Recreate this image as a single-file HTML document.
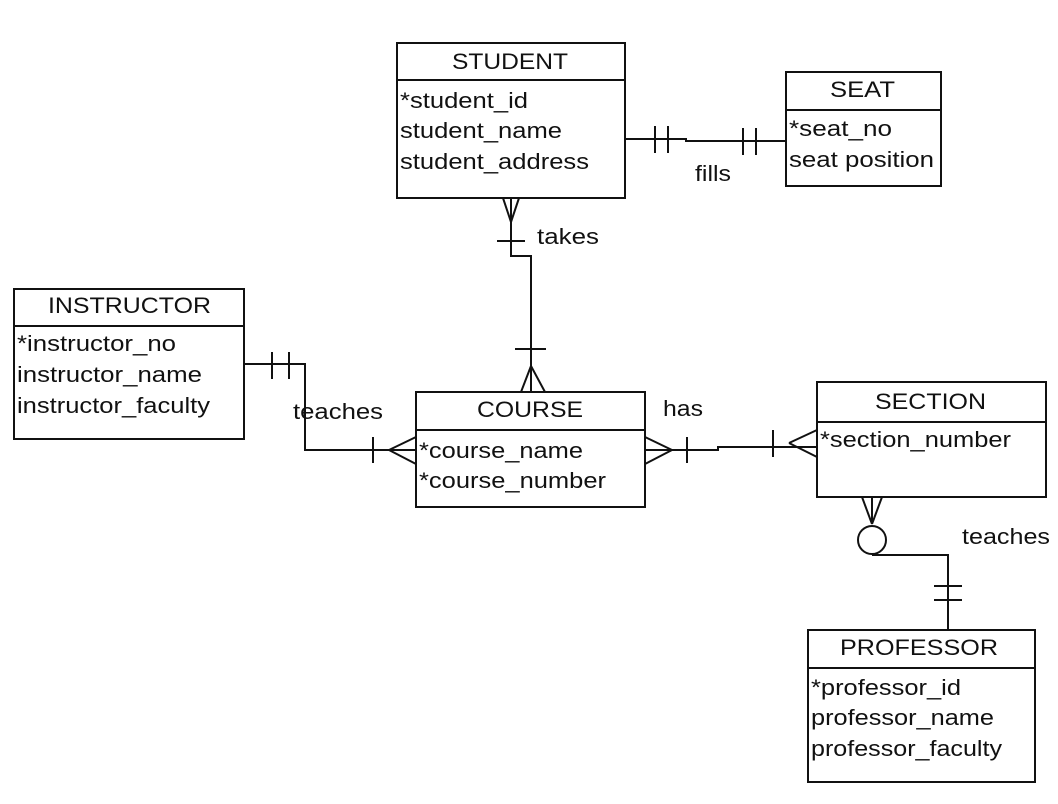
<!DOCTYPE html>
<html><head><meta charset="utf-8"><style>
html,body{margin:0;padding:0;background:#fff;}
svg{display:block;}
text{font-family:"Liberation Sans",Arial,sans-serif;font-size:22px;fill:#111;}
</style></head><body>
<svg width="1058" height="804" viewBox="0 0 1058 804" xmlns="http://www.w3.org/2000/svg">
<g fill="none" stroke="#111" stroke-width="2">
<rect x="397" y="43" width="228" height="155"/><line x1="397" y1="80" x2="625" y2="80"/>
<rect x="786" y="72" width="155" height="114"/><line x1="786" y1="110" x2="941" y2="110"/>
<rect x="14" y="289" width="230" height="150"/><line x1="14" y1="326" x2="244" y2="326"/>
<rect x="416" y="392" width="229" height="115"/><line x1="416" y1="430" x2="645" y2="430"/>
<rect x="817" y="382" width="229" height="115"/><line x1="817" y1="422" x2="1046" y2="422"/>
<rect x="808" y="630" width="227" height="152"/><line x1="808" y1="668" x2="1035" y2="668"/>

<polyline points="625,139 686,139 686,141 786,141"/>
<line x1="655" y1="126" x2="655" y2="153"/><line x1="668" y1="126" x2="668" y2="153"/>
<line x1="743" y1="128" x2="743" y2="155"/><line x1="756" y1="128" x2="756" y2="155"/>

<polyline points="511,198 511,256 531,256 531,392"/>
<line x1="503" y1="198" x2="511" y2="222"/><line x1="519" y1="198" x2="511" y2="222"/>
<line x1="497" y1="241" x2="525" y2="241"/>
<line x1="515" y1="349" x2="546" y2="349"/>
<line x1="531" y1="366" x2="521" y2="392"/><line x1="531" y1="366" x2="545" y2="392"/>

<polyline points="244,364 305,364 305,450 416,450"/>
<line x1="272" y1="352" x2="272" y2="379"/><line x1="289" y1="352" x2="289" y2="379"/>
<line x1="373" y1="437" x2="373" y2="463"/>
<line x1="389" y1="450" x2="416" y2="437"/><line x1="389" y1="450" x2="416" y2="464"/>

<polyline points="645,450 718,450 718,447 817,447"/>
<line x1="645" y1="437" x2="672" y2="450"/><line x1="645" y1="464" x2="672" y2="450"/>
<line x1="687" y1="437" x2="687" y2="463"/>
<line x1="773" y1="430" x2="773" y2="457"/>
<line x1="789" y1="443" x2="817" y2="430"/><line x1="789" y1="443" x2="817" y2="457"/>

<line x1="862" y1="497" x2="872" y2="524"/><line x1="882" y1="497" x2="872" y2="524"/><line x1="872" y1="497" x2="872" y2="524"/>
<circle cx="872" cy="540" r="14"/>
<polyline points="872,555 948,555 948,630"/>
<line x1="934" y1="586" x2="962" y2="586"/><line x1="934" y1="600" x2="962" y2="600"/>
</g>
<g lengthAdjust="spacingAndGlyphs">
<text x="452" y="69" textLength="116" lengthAdjust="spacingAndGlyphs">STUDENT</text>
<text x="400" y="108" textLength="128" lengthAdjust="spacingAndGlyphs">*student_id</text>
<text x="400" y="138" textLength="162" lengthAdjust="spacingAndGlyphs">student_name</text>
<text x="400" y="169" textLength="189" lengthAdjust="spacingAndGlyphs">student_address</text>

<text x="830" y="97" textLength="65" lengthAdjust="spacingAndGlyphs">SEAT</text>
<text x="789" y="136" textLength="103" lengthAdjust="spacingAndGlyphs">*seat_no</text>
<text x="789" y="167" textLength="145" lengthAdjust="spacingAndGlyphs">seat position</text>

<text x="48" y="313" textLength="163" lengthAdjust="spacingAndGlyphs">INSTRUCTOR</text>
<text x="17" y="351" textLength="159" lengthAdjust="spacingAndGlyphs">*instructor_no</text>
<text x="17" y="382" textLength="185" lengthAdjust="spacingAndGlyphs">instructor_name</text>
<text x="17" y="413" textLength="193" lengthAdjust="spacingAndGlyphs">instructor_faculty</text>

<text x="477" y="417" textLength="106" lengthAdjust="spacingAndGlyphs">COURSE</text>
<text x="419" y="458" textLength="164" lengthAdjust="spacingAndGlyphs">*course_name</text>
<text x="419" y="488" textLength="187" lengthAdjust="spacingAndGlyphs">*course_number</text>

<text x="875" y="409" textLength="111" lengthAdjust="spacingAndGlyphs">SECTION</text>
<text x="820" y="447" textLength="191" lengthAdjust="spacingAndGlyphs">*section_number</text>

<text x="840" y="655" textLength="158" lengthAdjust="spacingAndGlyphs">PROFESSOR</text>
<text x="811" y="695" textLength="150" lengthAdjust="spacingAndGlyphs">*professor_id</text>
<text x="811" y="725" textLength="183" lengthAdjust="spacingAndGlyphs">professor_name</text>
<text x="811" y="756" textLength="191" lengthAdjust="spacingAndGlyphs">professor_faculty</text>

<text x="695" y="181" textLength="36" lengthAdjust="spacingAndGlyphs">fills</text>
<text x="537" y="244" textLength="62" lengthAdjust="spacingAndGlyphs">takes</text>
<text x="293" y="419" textLength="90" lengthAdjust="spacingAndGlyphs">teaches</text>
<text x="663" y="416" textLength="40" lengthAdjust="spacingAndGlyphs">has</text>
<text x="962" y="544" textLength="88" lengthAdjust="spacingAndGlyphs">teaches</text>
</g>
</svg>
</body></html>
